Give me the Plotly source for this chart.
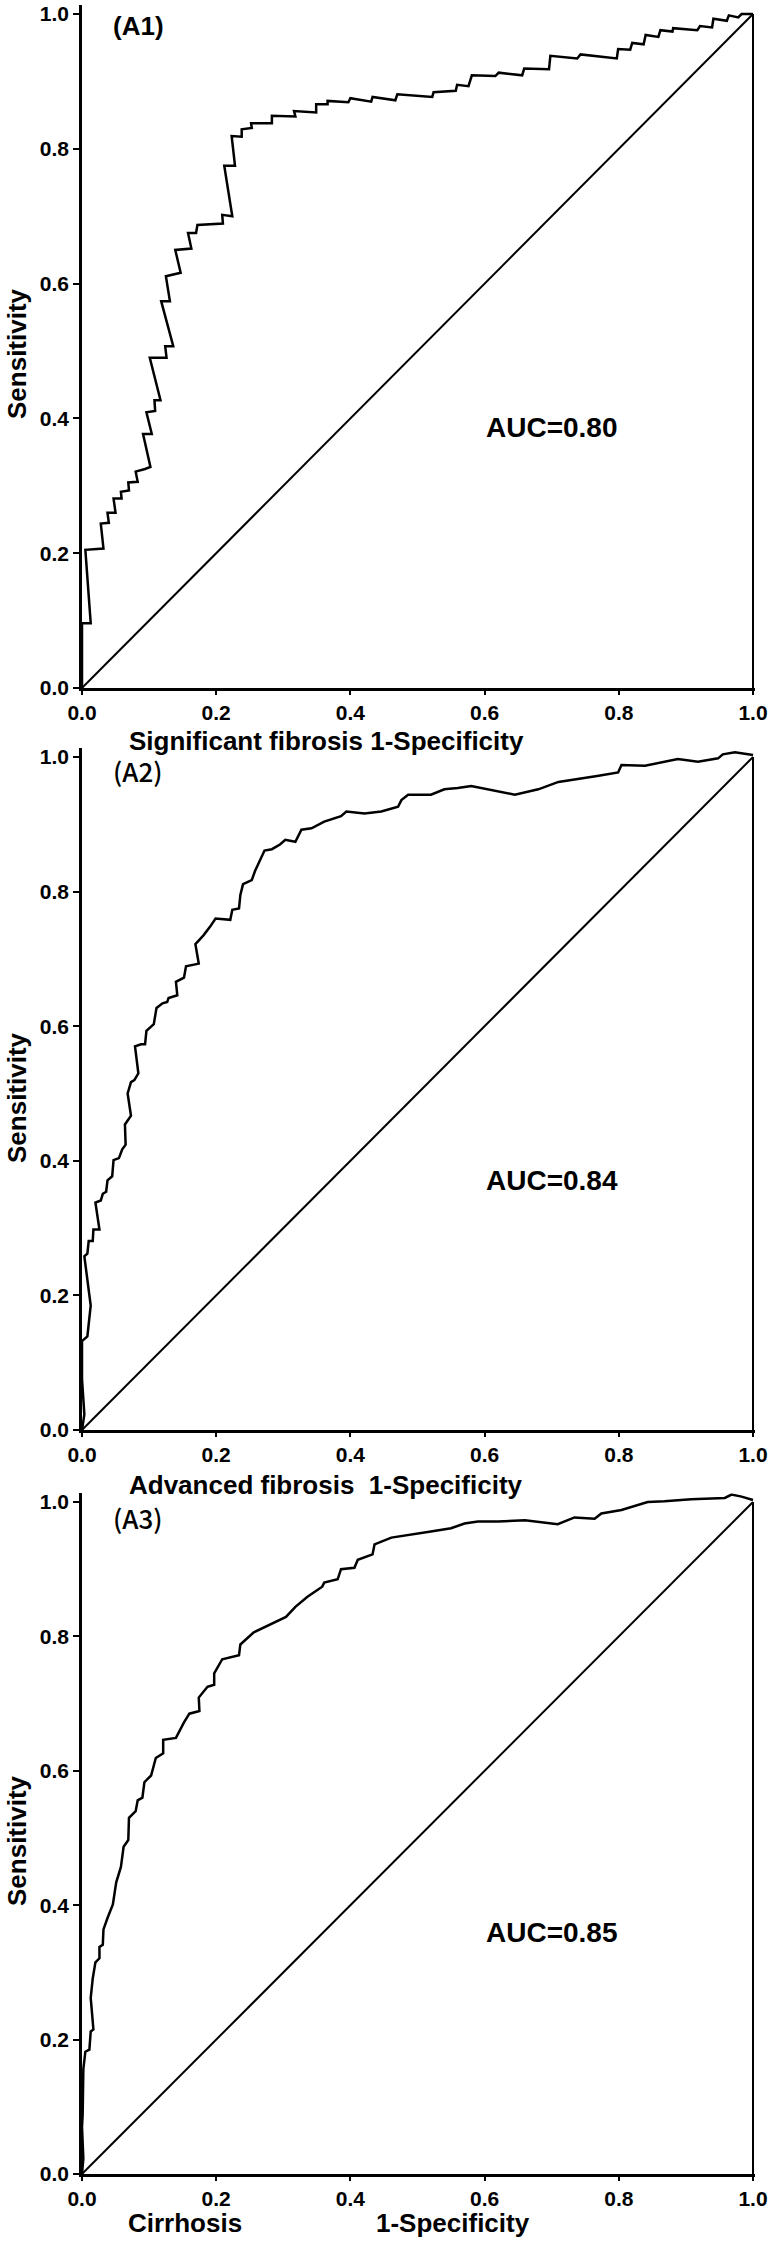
import plotly.graph_objects as go

# ---------------- data ----------------
fpr_a1 = [0, 0, 0.013, 0.005, 0.032, 0.028, 0.040, 0.038, 0.050, 0.047, 0.059, 0.058, 0.070, 0.069,
          0.083, 0.080, 0.094, 0.102, 0.091, 0.104, 0.096, 0.109, 0.108, 0.117, 0.101, 0.126, 0.124,
          0.136, 0.118, 0.131, 0.125, 0.147, 0.139, 0.163, 0.158, 0.170, 0.172, 0.210, 0.209, 0.224,
          0.212, 0.228, 0.223, 0.238, 0.238, 0.253, 0.252, 0.283, 0.283, 0.318, 0.316, 0.349, 0.349,
          0.366, 0.366, 0.397, 0.400, 0.431, 0.433, 0.467, 0.470, 0.522, 0.524, 0.557, 0.559, 0.576,
          0.581, 0.616, 0.621, 0.656, 0.659, 0.696, 0.698, 0.738, 0.743, 0.797, 0.799, 0.817, 0.820,
          0.837, 0.840, 0.859, 0.862, 0.880, 0.881, 0.917, 0.921, 0.939, 0.941, 0.961, 0.964, 0.978,
          0.983, 1.0]
tpr_a1 = [0, 0.096, 0.096, 0.205, 0.207, 0.244, 0.245, 0.260, 0.260, 0.281, 0.281, 0.291, 0.293, 0.305,
          0.306, 0.321, 0.325, 0.328, 0.377, 0.377, 0.409, 0.411, 0.427, 0.427, 0.490, 0.490, 0.507,
          0.507, 0.574, 0.574, 0.611, 0.616, 0.650, 0.652, 0.675, 0.675, 0.687, 0.689, 0.702, 0.700,
          0.775, 0.775, 0.819, 0.818, 0.829, 0.831, 0.838, 0.838, 0.849, 0.848, 0.856, 0.854, 0.866,
          0.866, 0.871, 0.869, 0.875, 0.870, 0.877, 0.872, 0.881, 0.877, 0.884, 0.886, 0.895, 0.893,
          0.909, 0.908, 0.913, 0.909, 0.919, 0.918, 0.938, 0.934, 0.940, 0.934, 0.948, 0.947, 0.957,
          0.955, 0.969, 0.966, 0.976, 0.974, 0.979, 0.976, 0.982, 0.980, 0.993, 0.990, 0.998, 0.995,
          1.0, 1.0]

fpr_a2 = [0, 0.0035, 0, 0, 0, 0.008, 0.010, 0.013, 0.0035, 0.008, 0.010, 0.016, 0.017, 0.026, 0.020,
          0.028, 0.031, 0.036, 0.038, 0.045, 0.047, 0.055, 0.060, 0.065, 0.064, 0.073, 0.068, 0.073,
          0.078, 0.084, 0.079, 0.088, 0.094, 0.096, 0.107, 0.111, 0.120, 0.127, 0.129, 0.142, 0.140,
          0.152, 0.155, 0.174, 0.169, 0.181, 0.191, 0.199, 0.221, 0.224, 0.234, 0.236, 0.240, 0.253,
          0.258, 0.266, 0.272, 0.283, 0.295, 0.303, 0.318, 0.327, 0.342, 0.361, 0.386, 0.394, 0.421,
          0.446, 0.471, 0.476, 0.486, 0.520, 0.540, 0.560, 0.580, 0.645, 0.680, 0.710, 0.740, 0.770,
          0.799, 0.804, 0.839, 0.868, 0.888, 0.918, 0.948, 0.955, 0.973, 1.0]
tpr_a2 = [0, 0.023, 0.076, 0.109, 0.132, 0.139, 0.162, 0.185, 0.258, 0.262, 0.281, 0.281, 0.298, 0.298,
          0.338, 0.341, 0.351, 0.354, 0.371, 0.377, 0.401, 0.404, 0.417, 0.424, 0.454, 0.467, 0.500,
          0.517, 0.520, 0.530, 0.570, 0.573, 0.573, 0.593, 0.603, 0.627, 0.634, 0.636, 0.642, 0.646,
          0.666, 0.672, 0.689, 0.693, 0.722, 0.735, 0.748, 0.760, 0.758, 0.773, 0.775, 0.795, 0.811,
          0.817, 0.831, 0.848, 0.861, 0.863, 0.870, 0.877, 0.874, 0.892, 0.894, 0.904, 0.912, 0.919,
          0.916, 0.919, 0.926, 0.936, 0.944, 0.944, 0.952, 0.954, 0.957, 0.944, 0.952, 0.963, 0.967,
          0.972, 0.977, 0.988, 0.987, 0.993, 0.997, 0.993, 0.998, 1.004, 1.007, 1.003]

fpr_a3 = [0, 0.002, 0, 0.001, 0.002, 0.005, 0.011, 0.013, 0.017, 0.013, 0.016, 0.020, 0.026, 0.026,
          0.031, 0.032, 0.038, 0.046, 0.051, 0.058, 0.062, 0.069, 0.070, 0.080, 0.083, 0.090, 0.093,
          0.103, 0.110, 0.121, 0.121, 0.140, 0.152, 0.160, 0.175, 0.174, 0.187, 0.197, 0.197, 0.209,
          0.234, 0.236, 0.256, 0.274, 0.304, 0.318, 0.336, 0.358, 0.361, 0.381, 0.386, 0.406, 0.411,
          0.433, 0.436, 0.461, 0.496, 0.520, 0.550, 0.570, 0.590, 0.620, 0.660, 0.690, 0.709, 0.734,
          0.764, 0.774, 0.804, 0.843, 0.868, 0.908, 0.958, 0.968, 0.983, 1.0]
tpr_a3 = [0, 0.023, 0.070, 0.089, 0.156, 0.182, 0.185, 0.212, 0.215, 0.262, 0.291, 0.315, 0.321, 0.338,
          0.341, 0.364, 0.381, 0.401, 0.434, 0.457, 0.487, 0.497, 0.530, 0.540, 0.556, 0.560, 0.583,
          0.593, 0.619, 0.626, 0.646, 0.649, 0.672, 0.685, 0.689, 0.709, 0.725, 0.728, 0.745, 0.766,
          0.772, 0.788, 0.806, 0.815, 0.829, 0.844, 0.859, 0.874, 0.880, 0.885, 0.900, 0.902, 0.914,
          0.922, 0.937, 0.947, 0.952, 0.956, 0.961, 0.968, 0.971, 0.971, 0.973, 0.970, 0.967, 0.977,
          0.975, 0.983, 0.988, 1.000, 1.001, 1.004, 1.006, 1.011, 1.008, 1.003]

reference_x = [0, 1]
reference_y = [0, 1]
right_edge_x = [1, 1]
right_edge_y = [0, 1]

panel_labels = ["(A1)", "(A2)", "(A3)"]
auc_labels = ["AUC=0.80", "AUC=0.84", "AUC=0.85"]
tick_values = [0.0, 0.2, 0.4, 0.6, 0.8, 1.0]
y_title = "Sensitivity"

# ---------------- layout geometry (pixels) ----------------
W, H = 770, 2241
X0_PX, X_UNIT = 82, 671
X_TOP, Y_TOP = 1.003, 1.013
panels_px = [(688, 674), (1430, 673), (2174, 672)]  # (y pixel of 0.0, pixels per unit)

FONT = "Liberation Sans, Arial, sans-serif"
TICK_FONT = "Liberation Sans Narrow, Arial Narrow, Liberation Sans, sans-serif"
curves = [(fpr_a1, tpr_a1), (fpr_a2, tpr_a2), (fpr_a3, tpr_a3)]

fig = go.Figure()
layout_axes = {}
x_dom = [X0_PX / W, (X0_PX + X_UNIT * X_TOP) / W]
for i, ((fx, ty), (bottom, unit)) in enumerate(zip(curves, panels_px)):
    n = "" if i == 0 else str(i + 1)
    xa, ya = "x" + n, "y" + n
    y_dom = [(H - bottom) / H, (H - (bottom - unit * Y_TOP)) / H]
    common = dict(showline=True, linecolor="black", linewidth=2.5, ticks="outside",
                  tickwidth=2, tickcolor="black", tickvals=tick_values,
                  tickformat=".1f", showgrid=False, zeroline=False, fixedrange=True,
                  ticklabeloverflow="allow", automargin=False,
                  tickfont=dict(family=TICK_FONT, size=21, color="black", weight="bold"))
    layout_axes["xaxis" + n] = dict(domain=x_dom, range=[0, X_TOP], anchor=ya, ticklen=4,
                                    **common)
    layout_axes["yaxis" + n] = dict(domain=y_dom, range=[0, Y_TOP], anchor=xa, ticklen=6,
                                    **common)

    fig.add_trace(go.Scatter(x=reference_x, y=reference_y, mode="lines", xaxis=xa, yaxis=ya,
                             line=dict(color="black", width=2), showlegend=False, hoverinfo="skip"))
    fig.add_trace(go.Scatter(x=right_edge_x, y=right_edge_y, mode="lines", xaxis=xa, yaxis=ya,
                             line=dict(color="black", width=2), showlegend=False, hoverinfo="skip"))
    fig.add_trace(go.Scatter(x=fx, y=ty, mode="lines", xaxis=xa, yaxis=ya,
                             line=dict(color="black", width=2.5), showlegend=False))

annotations = []
label_fonts = [dict(family=FONT, size=26, color="black", weight="bold"),
               dict(family="Noto Sans CJK SC", size=26, color="black", weight=500),
               dict(family="Noto Sans CJK SC", size=26, color="black", weight=500)]
label_px_y = [26, 771, 1517]
auc_y = [0.387, 0.37, 0.36]
title_center_px = [354, 1098, 1841]
xtitle_px_y = [741, 1485, 2223]
for i in range(3):
    n = "" if i == 0 else str(i + 1)
    annotations.append(dict(x=138 / W, y=(H - label_px_y[i]) / H, xref="paper", yref="paper",
                            text=panel_labels[i], showarrow=False, xanchor="center",
                            yanchor="middle", font=label_fonts[i]))
    annotations.append(dict(x=0.70, y=auc_y[i], xref="x" + n, yref="y" + n, text=auc_labels[i],
                            showarrow=False, xanchor="center", yanchor="middle",
                            font=dict(family=FONT, size=28, color="black", weight="bold")))
    annotations.append(dict(x=17 / W, y=(H - title_center_px[i]) / H, xref="paper", yref="paper",
                            text=y_title, textangle=-90, showarrow=False, xanchor="center",
                            yanchor="middle",
                            font=dict(family=FONT, size=26, color="black", weight="bold")))

xtitle_font = dict(family=FONT, size=26, color="black", weight="bold")
annotations.append(dict(x=127 / W, y=(H - xtitle_px_y[0]) / H, xref="paper", yref="paper",
                        text="Significant fibrosis 1-Specificity", showarrow=False,
                        xanchor="left", yanchor="middle", font=xtitle_font))
annotations.append(dict(x=127 / W, y=(H - xtitle_px_y[1]) / H, xref="paper", yref="paper",
                        text="Advanced fibrosis\u00a0 1-Specificity", showarrow=False,
                        xanchor="left", yanchor="middle", font=xtitle_font))
annotations.append(dict(x=126 / W, y=(H - xtitle_px_y[2]) / H, xref="paper", yref="paper",
                        text="Cirrhosis", showarrow=False,
                        xanchor="left", yanchor="middle", font=xtitle_font))
annotations.append(dict(x=374 / W, y=(H - xtitle_px_y[2]) / H, xref="paper", yref="paper",
                        text="1-Specificity", showarrow=False,
                        xanchor="left", yanchor="middle", font=xtitle_font))

fig.update_layout(width=W, height=H, margin=dict(l=0, r=0, t=0, b=0),
                  paper_bgcolor="white", plot_bgcolor="white", showlegend=False,
                  annotations=annotations, **layout_axes)

fig.write_html("out.html", config={"displayModeBar": False},
               post_script="document.body.style.margin='0px';"
                           "document.documentElement.style.overflow='hidden';"
                           "document.body.style.overflow='hidden';")
